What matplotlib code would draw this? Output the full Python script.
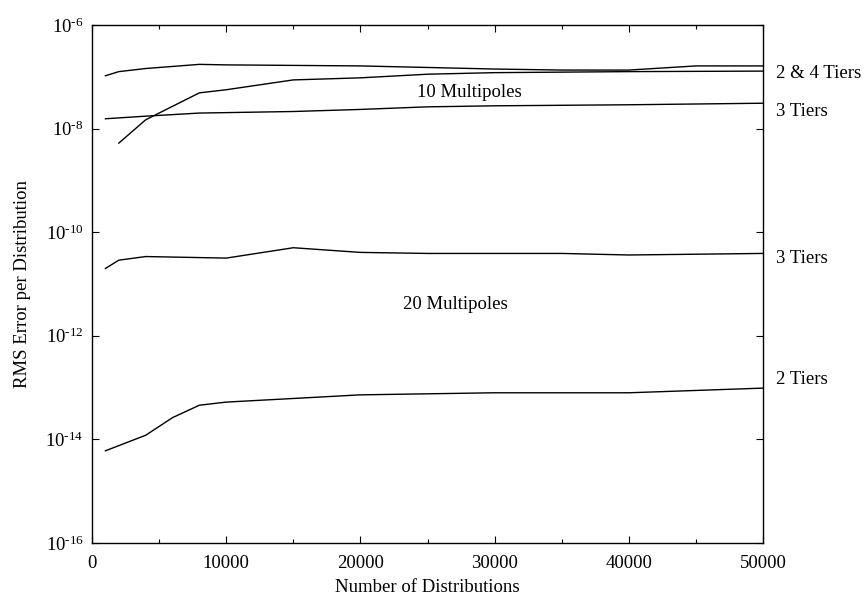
import numpy as np
import matplotlib
matplotlib.use('Agg')
import matplotlib.pyplot as plt
from matplotlib.ticker import FixedLocator

plt.rcParams['font.family'] = ['Liberation Serif', 'DejaVu Serif']
plt.rcParams['mathtext.fontset'] = 'custom'
plt.rcParams['mathtext.rm'] = 'Liberation Serif'
plt.rcParams['mathtext.it'] = 'Liberation Serif:italic'

# 10 multipoles (log10 of the RMS error)
x_10_top = [1000, 2000, 4000, 8000, 10000, 15000, 20000, 25000, 30000, 35000, 40000, 45000, 50000]
y_10_top = [-6.98, -6.90, -6.84, -6.76, -6.77, -6.78, -6.79, -6.82, -6.85, -6.87, -6.87, -6.79, -6.79]

x_10_rise = [2000, 4000, 8000, 10000, 15000, 20000, 25000, 30000, 40000, 50000]
y_10_rise = [-8.28, -7.83, -7.31, -7.25, -7.06, -7.02, -6.95, -6.92, -6.90, -6.89]

x_10_3t = [1000, 4000, 8000, 15000, 20000, 25000, 30000, 40000, 50000]
y_10_3t = [-7.81, -7.76, -7.70, -7.67, -7.63, -7.58, -7.56, -7.54, -7.51]

# 20 multipoles
x_20_3t = [1000, 2000, 4000, 10000, 15000, 20000, 25000, 35000, 40000, 50000]
y_20_3t = [-10.70, -10.54, -10.47, -10.50, -10.30, -10.39, -10.41, -10.41, -10.44, -10.41]

x_20_2t = [1000, 4000, 6000, 8000, 10000, 20000, 30000, 40000, 50000]
y_20_2t = [-14.22, -13.92, -13.58, -13.34, -13.28, -13.14, -13.10, -13.10, -13.01]

series = [(x_10_top, y_10_top), (x_10_rise, y_10_rise), (x_10_3t, y_10_3t),
          (x_20_3t, y_20_3t), (x_20_2t, y_20_2t)]

x_ticks = [0, 10000, 20000, 30000, 40000, 50000]
x_minor = [5000, 15000, 25000, 35000, 45000]
y_exps = [-16, -14, -12, -10, -8, -6]

right_labels = ['2 & 4 Tiers', '3 Tiers', '3 Tiers', '2 Tiers']
right_label_y = [-6.93, -7.67, -10.5, -12.85]

fig = plt.figure(figsize=(8.64, 5.95), dpi=100)
ax = fig.add_axes([92 / 864, 1 - 543 / 595, (763 - 92) / 864, (543 - 25) / 595])

for xs, ys in series:
    ax.plot(xs, 10.0 ** np.array(ys), color='black', lw=1.0)

ax.set_yscale('log')
ax.set_xlim(0, 50000)
ax.set_ylim(1e-16, 1e-6)

ax.yaxis.set_major_locator(FixedLocator([10.0 ** e for e in y_exps]))
ax.yaxis.set_minor_locator(FixedLocator([]))
ax.set_yticklabels([r'$10^{\text{%d}}$' % e for e in y_exps])
ax.xaxis.set_major_locator(FixedLocator(x_ticks))
ax.xaxis.set_minor_locator(FixedLocator(x_minor))
ax.set_xticklabels([str(v) for v in x_ticks])

ax.tick_params(which='both', direction='in', top=True, right=True, labelsize=13.5, width=0.8)
ax.tick_params(which='major', length=5, pad=6)
ax.tick_params(axis='x', which='major', pad=9)
ax.tick_params(which='minor', length=3)
for s in ax.spines.values():
    s.set_linewidth(1.0)

ax.set_xlabel('Number of Distributions', fontsize=13.5, labelpad=5)
ax.set_ylabel('RMS Error per Distribution', fontsize=13.5, labelpad=10)

ax.text(28100, 10 ** -7.3, '10 Multipoles', fontsize=13.5, ha='center', va='center')
ax.text(27100, 10 ** -11.4, '20 Multipoles', fontsize=13.5, ha='center', va='center')

for lab, yv in zip(right_labels, right_label_y):
    ax.text(51000, 10 ** yv, lab, fontsize=13.5, ha='left', va='center', clip_on=False)

fig.savefig('out.png', dpi=100)
